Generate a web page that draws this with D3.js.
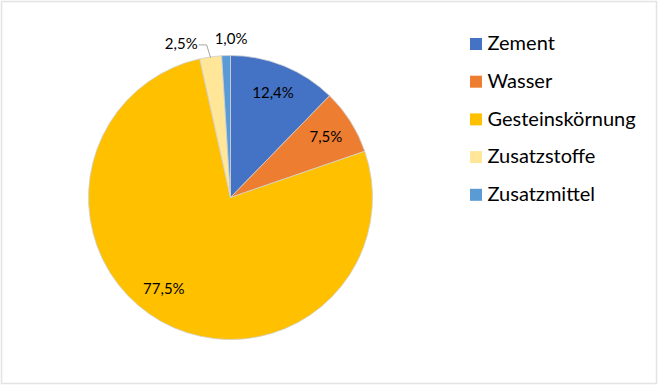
<!DOCTYPE html>
<html><head><meta charset="utf-8">
<script src="https://cdn.jsdelivr.net/npm/d3@7"></script>
<style>body{margin:0;background:#fff}svg{display:block}text{font-family:Lato,"Open Sans",sans-serif}</style>
</head><body><svg id="c" width="660" height="387"></svg>
<script>
const categories = ["Zement","Wasser","Gesteinskörnung","Zusatzstoffe","Zusatzmittel"];
const values = [12.4, 7.5, 77.5, 2.5, 1.0];
const labels = ["12,4%","7,5%","77,5%","2,5%","1,0%"];
const colors = ["#4472C4","#ED7D31","#FFC000","#FFE699","#5B9BD5"];

const svg = d3.select("#c");
svg.append("rect").attr("x",1.5).attr("y",1.5).attr("width",655).attr("height",382)
  .attr("fill","#fff").attr("stroke","#e3e3e3").attr("stroke-width",1.5);

const cx = 230.5, cy = 197.5, r = 142;
const data = categories.map((c,i)=>({cat:c,value:values[i],label:labels[i],color:colors[i]}));
const pie = d3.pie().sort(null).value(d=>d.value);
const arcs = pie(data);
const arc = d3.arc().innerRadius(0).outerRadius(r);
const g = svg.append("g").attr("transform",`translate(${cx},${cy})`);
g.selectAll("path").data(arcs).join("path")
  .attr("d",arc).attr("fill",d=>d.data.color).attr("stroke","#d0d0d0").attr("stroke-width",0.8);

arcs.forEach((a,i)=>{
  const mid = (a.startAngle+a.endAngle)/2;
  if (a.data.value > 5) {
    let ang = mid + (i===2 ? 0.12 : 0);
    const x = 113*Math.sin(ang), y = -113*Math.cos(ang);
    g.append("text").attr("x",x).attr("y",y).attr("text-anchor","middle").attr("dy","0.35em")
      .attr("font-size",15).attr("fill","#000").text(a.data.label);
  } else {
    const ox = r*Math.sin(mid), oy = -r*Math.cos(mid);
    if (i===3) {
      g.append("polyline").attr("points",`${ox},${oy+1} ${ox-4},${oy-12} ${ox-12},${oy-12}`)
        .attr("fill","none").attr("stroke","#a6a6a6").attr("stroke-width",1);
      g.append("text").attr("x",ox-13).attr("y",oy-13).attr("dy","0.35em").attr("text-anchor","end")
        .attr("font-size",15).text(a.data.label);
    } else {
      g.append("text").attr("x",ox+5).attr("y",oy-17).attr("dy","0.35em").attr("text-anchor","middle")
        .attr("font-size",15).text(a.data.label);
    }
  }
});

// legend
const lg = svg.append("g").attr("transform","translate(470,43)");
const row = lg.selectAll("g").data(data).join("g").attr("transform",(d,i)=>`translate(0,${i*37.7})`);
row.append("rect").attr("x",0).attr("y",-5).attr("width",12).attr("height",12).attr("fill",d=>d.color);
row.append("text").attr("x",17.5).attr("y",0).attr("dy","0.36em").attr("font-size",20).text(d=>d.cat);
</script></body></html>
